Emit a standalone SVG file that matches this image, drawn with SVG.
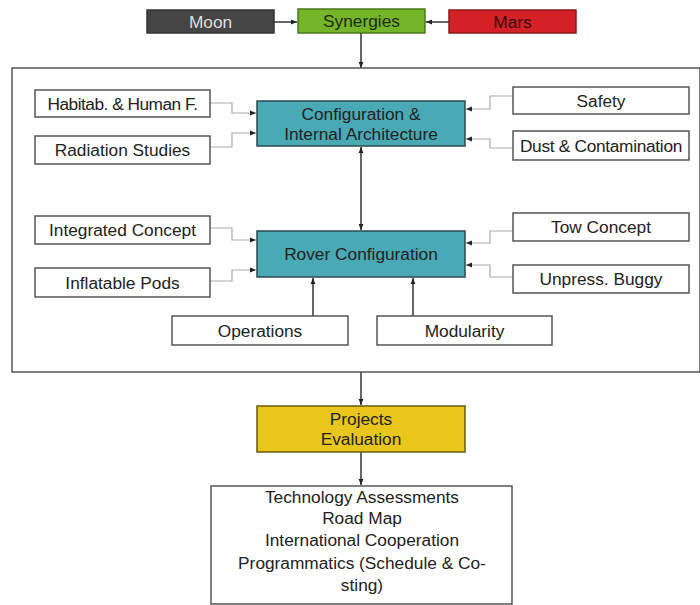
<svg xmlns="http://www.w3.org/2000/svg" width="700" height="605" viewBox="0 0 700 605">
<defs>
<style>
text{font-family:"Liberation Sans",Arial,sans-serif;font-size:17.3px;fill:#222;text-anchor:middle;dominant-baseline:central}
.box{fill:#fff;stroke:#555;stroke-width:1.5}
.core{fill:#49a9b4;stroke:#2b4b50;stroke-width:1.5}
.thin{fill:none;stroke:#aaa;stroke-width:1.2}
.main{fill:none;stroke:#333;stroke-width:1.5}
</style>
<marker id="ah" viewBox="0 0 10 10" refX="10" refY="5" markerWidth="6" markerHeight="6" orient="auto-start-reverse" markerUnits="userSpaceOnUse">
<path d="M0,1 L10,5 L0,9 Z" fill="#222"/>
</marker>
</defs>
<rect width="700" height="605" fill="#fff"/>

<g id="connectors">
<path class="main" d="M274,22 H297" marker-end="url(#ah)"/>
<path class="main" d="M449,22 H426" marker-end="url(#ah)"/>
<path class="main" d="M361,33 V68" marker-end="url(#ah)"/>
<path class="thin" d="M210,103 H232 V113 H256" marker-end="url(#ah)"/>
<path class="thin" d="M210,147 H232 V133 H256" marker-end="url(#ah)"/>
<path class="thin" d="M513,96 H490 V109 H466" marker-end="url(#ah)"/>
<path class="thin" d="M513,148 H490 V139 H466" marker-end="url(#ah)"/>
<path class="main" d="M361,147 V230" marker-start="url(#ah)" marker-end="url(#ah)"/>
<path class="thin" d="M210,228 H232 V240 H256" marker-end="url(#ah)"/>
<path class="thin" d="M210,281 H232 V270 H256" marker-end="url(#ah)"/>
<path class="thin" d="M513,231 H490 V243 H466" marker-end="url(#ah)"/>
<path class="thin" d="M513,277 H490 V265 H466" marker-end="url(#ah)"/>
<path class="main" d="M313,316 V278" marker-end="url(#ah)"/>
<path class="main" d="M413,316 V278" marker-end="url(#ah)"/>
<path class="main" d="M361,372 V405" marker-end="url(#ah)"/>
<path class="main" d="M361,452 V485" marker-end="url(#ah)"/>
</g>

<g id="frame"><rect x="12" y="68" width="688" height="304" fill="none" stroke="#555" stroke-width="1.5"/></g>

<g id="moon"><rect x="147" y="10" width="127" height="23" fill="#454545" stroke="#333" stroke-width="1.5"/><text x="210.5" y="21.5" style="fill:#ddd">Moon</text></g>
<g id="synergies"><rect x="298" y="9" width="127" height="24" fill="#74b52a" stroke="#4a7a1a" stroke-width="1.5"/><text x="361.5" y="21" style="fill:#1e2a10">Synergies</text></g>
<g id="mars"><rect x="449" y="10" width="127" height="23" fill="#d42127" stroke="#8a1a1a" stroke-width="1.5"/><text x="512.5" y="21.5" style="fill:#3a0808">Mars</text></g>

<g id="habitab"><rect class="box" x="35" y="90" width="175" height="27"/><text x="122.5" y="103.5" style="letter-spacing:-0.5px">Habitab. &amp; Human  F.</text></g>
<g id="radiation"><rect class="box" x="35" y="136" width="175" height="28"/><text x="122.5" y="150">Radiation Studies</text></g>
<g id="config"><rect class="core" x="257" y="101" width="208" height="45"/><text x="361" y="114">Configuration &amp;</text><text x="361" y="134">Internal Architecture</text></g>
<g id="safety"><rect class="box" x="513" y="87" width="176" height="27"/><text x="601" y="100.5">Safety</text></g>
<g id="dust"><rect class="box" x="513" y="131" width="176" height="29"/><text x="601" y="146" style="letter-spacing:-0.3px">Dust &amp; Contamination</text></g>

<g id="integrated"><rect class="box" x="35" y="216" width="175" height="28"/><text x="122.5" y="230">Integrated Concept</text></g>
<g id="inflatable"><rect class="box" x="35" y="268" width="175" height="29"/><text x="122.5" y="283">Inflatable Pods</text></g>
<g id="rover"><rect class="core" x="257" y="231" width="208" height="46"/><text x="361" y="254">Rover Configuration</text></g>
<g id="tow"><rect class="box" x="513" y="213" width="176" height="28"/><text x="601" y="227">Tow Concept</text></g>
<g id="unpress"><rect class="box" x="513" y="265" width="176" height="28"/><text x="601" y="279">Unpress. Buggy</text></g>
<g id="operations"><rect class="box" x="172" y="316" width="176" height="29"/><text x="260" y="330.5">Operations</text></g>
<g id="modularity"><rect class="box" x="377" y="316" width="175" height="29"/><text x="464.5" y="330.5">Modularity</text></g>

<g id="projects"><rect x="257" y="406" width="208" height="46" fill="#e9c61b" stroke="#6a5a10" stroke-width="1.5"/><text x="361" y="419">Projects</text><text x="361" y="439">Evaluation</text></g>
<g id="outcomes"><rect class="box" x="211" y="486" width="301" height="118"/>
<text x="362" y="497">Technology Assessments</text>
<text x="362" y="518">Road Map</text>
<text x="362" y="540">International Cooperation</text>
<text x="362" y="563">Programmatics (Schedule &amp; Co-</text>
<text x="362" y="585">sting)</text></g>
</svg>
